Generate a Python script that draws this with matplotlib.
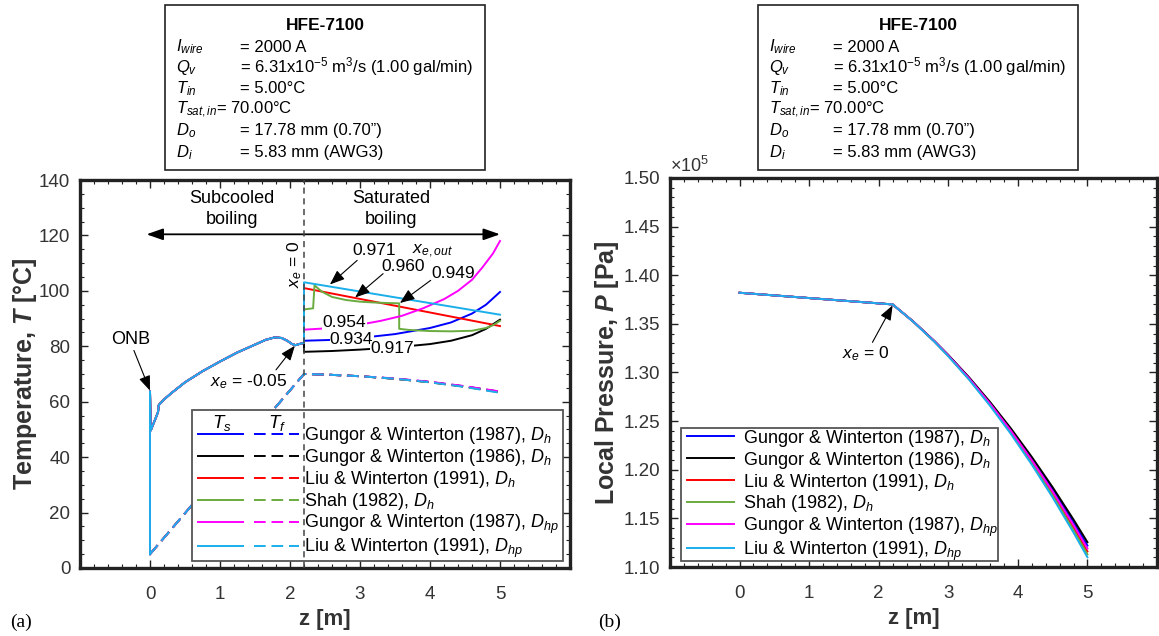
import matplotlib
matplotlib.use("Agg")
import matplotlib.pyplot as plt
from matplotlib.patches import Rectangle
from matplotlib.legend_handler import HandlerTuple
from matplotlib.ticker import MultipleLocator, FuncFormatter, FixedLocator

plt.rcParams['font.family'] = ['Liberation Sans', 'DejaVu Sans']
plt.rcParams['mathtext.fontset'] = 'custom'
plt.rcParams['mathtext.rm'] = 'Liberation Sans'
plt.rcParams['mathtext.it'] = 'Liberation Sans:italic'
plt.rcParams['mathtext.bf'] = 'Liberation Sans:bold'
plt.rcParams['mathtext.bfit'] = 'Liberation Sans:italic:bold'

# ---------------- series definitions ----------------
labels = [r'Gungor & Winterton (1987), $D_h$',
          r'Gungor & Winterton (1986), $D_h$',
          r'Liu & Winterton (1991), $D_h$',
          r'Shah (1982), $D_h$',
          r'Gungor & Winterton (1987), $D_{hp}$',
          r'Liu & Winterton (1991), $D_{hp}$']
colors = ['#0000FF', '#000000', '#FF0000', '#6AAB3F', '#FF00FF', '#1AAEEB']

# ---------------- (a) temperatures ----------------
# subcooled boiling region (identical for all correlations)
z_sub = [0.0, 0.0, 0.01, 0.08, 0.115, 0.125, 0.2, 0.3, 0.5, 0.75, 1.0, 1.25,
         1.5, 1.65, 1.78, 1.88, 1.96, 2.03, 2.08, 2.13, 2.2]
Ts_sub = [5.0, 63.8, 49.6, 54.0, 56.3, 58.8, 60.8, 63.0, 67.0, 71.0, 74.5, 77.8,
          80.6, 82.3, 83.2, 83.0, 82.0, 80.8, 80.4, 80.8, 81.2]
z_fsub = [0.0, 2.2]
Tf_sub = [5.0, 70.0]

# saturated boiling region, wall temperature
z_sat_blue = [2.2, 2.2, 2.6, 3.0, 3.5, 4.0, 4.3, 4.6, 4.8, 5.0]
Ts_sat_blue = [81.2, 82.0, 82.3, 83.0, 84.4, 86.6, 88.6, 91.8, 95.0, 99.6]
z_sat_black = [2.2, 2.2, 2.6, 3.0, 3.5, 4.0, 4.3, 4.6, 4.8, 5.0]
Ts_sat_black = [81.2, 78.0, 78.3, 78.8, 79.6, 80.8, 82.0, 84.0, 86.3, 89.6]
z_sat_red = [2.2, 2.2, 5.0]
Ts_sat_red = [81.2, 101.0, 87.3]
z_sat_green = [2.2, 2.2, 2.33, 2.35, 2.45, 2.6, 2.8, 3.0, 3.2, 3.4, 3.56, 3.56,
               3.7, 4.0, 4.3, 4.6, 4.8, 4.9, 5.0]
Ts_sat_green = [81.2, 93.3, 93.7, 102.0, 99.8, 97.8, 96.7, 96.1, 95.8, 95.6, 95.5, 86.3,
                85.9, 85.5, 85.4, 85.6, 86.6, 87.6, 89.2]
z_sat_magenta = [2.2, 2.2, 2.6, 3.0, 3.3, 3.6, 3.9, 4.2, 4.4, 4.6, 4.75, 4.9, 5.0]
Ts_sat_magenta = [81.2, 86.0, 86.6, 87.8, 89.2, 91.0, 93.7, 97.0, 100.0, 104.0, 108.5,
                  113.5, 118.0]
z_sat_cyan = [2.2, 2.2, 5.0]
Ts_sat_cyan = [81.2, 103.1, 91.4]

# saturated boiling region, fluid temperature
z_fsat = [2.2, 2.5, 3.0, 3.5, 4.0, 4.5, 5.0]
Tf_sat_blue = [70.0, 69.8, 69.2, 68.3, 67.1, 65.5, 63.5]
Tf_sat_black = [70.0, 69.8, 69.2, 68.3, 67.1, 65.5, 63.6]
Tf_sat_red = [70.0, 69.8, 69.2, 68.3, 67.0, 65.4, 63.4]
Tf_sat_green = [70.0, 69.8, 69.2, 68.3, 67.0, 65.4, 63.4]
Tf_sat_magenta = [70.0, 69.8, 69.2, 68.4, 67.2, 65.6, 63.7]
Tf_sat_cyan = [70.0, 69.8, 69.2, 68.3, 67.0, 65.3, 63.2]

# ---------------- (b) pressures [Pa] ----------------
z_p_sub = [0.0, 2.2]
P_sub = [1.382e5, 1.370e5]
z_p_sat = [2.2, 2.5, 2.8, 3.0, 3.3, 3.6, 3.9, 4.2, 4.5, 4.8, 5.0]
P_sat_blue = [1.3700e5, 1.3522e5, 1.3322e5, 1.3177e5, 1.2944e5, 1.2688e5, 1.2412e5,
              1.2114e5, 1.1796e5, 1.1458e5, 1.1220e5]
P_sat_black = [1.3700e5, 1.3522e5, 1.3324e5, 1.3180e5, 1.2949e5, 1.2697e5, 1.2425e5,
               1.2132e5, 1.1820e5, 1.1488e5, 1.1255e5]
P_sat_red = [1.3700e5, 1.3521e5, 1.3320e5, 1.3172e5, 1.2934e5, 1.2673e5, 1.2390e5,
             1.2084e5, 1.1756e5, 1.1406e5, 1.1160e5]
P_sat_green = [1.3700e5, 1.3521e5, 1.3318e5, 1.3170e5, 1.2930e5, 1.2666e5, 1.2379e5,
               1.2068e5, 1.1736e5, 1.1380e5, 1.1130e5]
P_sat_magenta = [1.3700e5, 1.3521e5, 1.3321e5, 1.3175e5, 1.2939e5, 1.2681e5, 1.2401e5,
                 1.2099e5, 1.1776e5, 1.1432e5, 1.1190e5]
P_sat_cyan = [1.3700e5, 1.3520e5, 1.3317e5, 1.3167e5, 1.2925e5, 1.2658e5, 1.2368e5,
              1.2053e5, 1.1715e5, 1.1354e5, 1.1100e5]

xe_out = ['0.934', '0.917', '0.960', '0.949', '0.954', '0.971']

z_sat_s = [z_sat_blue, z_sat_black, z_sat_red, z_sat_green, z_sat_magenta, z_sat_cyan]
Ts_sat = [Ts_sat_blue, Ts_sat_black, Ts_sat_red, Ts_sat_green, Ts_sat_magenta, Ts_sat_cyan]
Tf_sat = [Tf_sat_blue, Tf_sat_black, Tf_sat_red, Tf_sat_green, Tf_sat_magenta, Tf_sat_cyan]
P_sat = [P_sat_blue, P_sat_black, P_sat_red, P_sat_green, P_sat_magenta, P_sat_cyan]

# ---------------- figure ----------------
W, H = 1159, 636
fig = plt.figure(figsize=(W / 100, H / 100), dpi=100)


def fx(px):
    return px / W


def fy(py):
    return 1 - py / H


axL = fig.add_axes([fx(80), fy(568), fx(490), 388 / H])
axR = fig.add_axes([fx(670), fy(567), fx(487), 389 / H])

LW = 1.4
dash = (0, (6, 3))

ts_lines, tf_lines = [], []
for i in range(6):
    zs = z_sub + z_sat_s[i]
    ts = Ts_sub + Ts_sat[i]
    zf = z_fsub + z_fsat[1:]
    tf = Tf_sub + Tf_sat[i][1:]
    l1, = axL.plot(zs, ts, color=colors[i], lw=LW, zorder=3)
    l2, = axL.plot(zf, tf, color=colors[i], lw=LW, ls=dash, zorder=3)
    ts_lines.append(l1)
    tf_lines.append(l2)

p_lines = []
for i in range(6):
    l, = axR.plot(z_p_sub + z_p_sat[1:], P_sub + P_sat[i][1:], color=colors[i], lw=LW)
    p_lines.append(l)

# ---------------- axes styling ----------------
for ax in (axL, axR):
    ax.set_xlim(-1, 6)
    ax.xaxis.set_major_locator(FixedLocator([0, 1, 2, 3, 4, 5]))
    ax.xaxis.set_minor_locator(MultipleLocator(0.2))
    ax.tick_params(which='both', direction='in', top=True, right=True, labelsize=13.5,
                   colors='#222222', labelcolor='#333333')
    ax.tick_params(which='major', length=6, width=1.0, pad=7)
    ax.tick_params(which='minor', length=3, width=0.8)
    ax.tick_params(axis='x', which='major', pad=13)
    for s in ax.spines.values():
        s.set_linewidth(2.4)
        s.set_color('#222222')
    ax.set_xlabel('z [m]', fontsize=16, fontweight='bold', color='#333333')
    ax.xaxis.set_label_coords(0.5, -0.105)

axL.set_ylim(0, 140)
axL.yaxis.set_major_locator(MultipleLocator(20))
axL.yaxis.set_minor_locator(MultipleLocator(5))
axL.set_ylabel(r'Temperature, $\mathbfit{T}$ [°C]', fontsize=18, fontweight='bold',
               color='#333333')
axL.yaxis.set_label_coords(-0.084, 0.5)

axR.set_ylim(1.10e5, 1.50e5)
axR.yaxis.set_major_locator(MultipleLocator(0.05e5))
axR.yaxis.set_minor_locator(MultipleLocator(0.01e5))
axR.yaxis.set_major_formatter(FuncFormatter(lambda v, p: f'{v / 1e5:.2f}'))
axR.set_ylabel(r'Local Pressure, $\mathbfit{P}$ [Pa]', fontsize=18, fontweight='bold',
               color='#333333')
axR.yaxis.set_label_coords(-0.1, 0.5)
axR.text(0.0, 1.005, r'×10$^5$', transform=axR.transAxes, fontsize=13,
         color='#333333', ha='left', va='bottom')

# ---------------- (a) annotations ----------------
axL.axvline(2.2, color='#444444', lw=1.1, ls=(0, (4, 3)), zorder=6)
axL.annotate('', xy=(5.0, 120.4), xytext=(-0.05, 120.4),
             arrowprops=dict(arrowstyle='<|-|>,head_length=1.0,head_width=0.35',
                             color='k', lw=1.3, shrinkA=0, shrinkB=0))
axL.text(1.17, 129.5, 'Subcooled\nboiling', ha='center', va='center', fontsize=13,
         linespacing=1.25)
axL.text(3.45, 129.5, 'Saturated\nboiling', ha='center', va='center', fontsize=13,
         linespacing=1.25)
axL.text(2.06, 109.5, r'$x_e$ = 0', rotation=90, ha='center', va='center', fontsize=12.5)
axL.text(4.04, 114.4, r'$x_{e,out}$', ha='center', va='center', fontsize=12.5)

arrow_kw = dict(arrowstyle='-|>,head_length=0.9,head_width=0.35', color='k', lw=0.8,
                shrinkA=0, shrinkB=0)
axL.text(3.20, 114.4, xe_out[5], ha='center', va='center', fontsize=12.5)
axL.annotate('', xy=(2.57, 102.3), xytext=(2.96, 111.0), arrowprops=arrow_kw)
axL.text(3.62, 108.9, xe_out[2], ha='center', va='center', fontsize=12.5)
axL.annotate('', xy=(2.93, 97.6), xytext=(3.33, 106.2), arrowprops=arrow_kw)
axL.text(4.33, 106.3, xe_out[3], ha='center', va='center', fontsize=12.5)
axL.annotate('', xy=(3.57, 95.6), xytext=(4.01, 103.8), arrowprops=arrow_kw)

box_kw = dict(fc='white', ec='none', pad=0.3)
axL.text(2.78, 88.7, xe_out[4], ha='center', va='center', fontsize=12.5, bbox=box_kw,
         zorder=4)
axL.text(2.88, 82.4, xe_out[0], ha='center', va='center', fontsize=12.5, bbox=box_kw,
         zorder=4)
axL.text(3.46, 79.2, xe_out[1], ha='center', va='center', fontsize=12.5, bbox=box_kw,
         zorder=4)

axL.text(-0.27, 82.4, 'ONB', ha='center', va='center', fontsize=13)
axL.annotate('', xy=(0.0, 64.0), xytext=(-0.23, 78.5), arrowprops=arrow_kw)
axL.text(1.41, 67.4, r'$x_e$ = -0.05', ha='center', va='center', fontsize=12.5)
axL.annotate('', xy=(2.07, 80.2), xytext=(1.80, 71.5), arrowprops=arrow_kw)

# legend of (a): frame drawn as its own patch, header row above the line samples
axL.add_patch(Rectangle((0.228, 0.017), 0.757, 0.390, transform=axL.transAxes,
                        fc='white', ec='#555555', lw=1.3, zorder=4.6))
legL = axL.legend(list(zip(ts_lines, tf_lines)), labels,
                  handler_map={tuple: HandlerTuple(ndivide=None, pad=0.6)},
                  loc='upper left', bbox_to_anchor=(0.229, 0.382), borderaxespad=0,
                  handlelength=5.6, fontsize=13, frameon=False, borderpad=0.3,
                  labelspacing=0.05, handletextpad=0.3)
legL.set_zorder(5)
axL.text(1.02, 52.5, r'$T_s$', ha='center', va='center', fontsize=13.5, zorder=7)
axL.text(1.81, 52.5, r'$T_f$', ha='center', va='center', fontsize=13.5, zorder=7)

# ---------------- (b) annotations ----------------
axR.text(1.82, 1.3197e5, r'$x_e$ = 0', ha='center', va='center', fontsize=12.5)
axR.annotate('', xy=(2.2, 1.369e5), xytext=(1.91, 1.331e5), arrowprops=arrow_kw)

axR.add_patch(Rectangle((0.0226, 0.016), 0.651, 0.342, transform=axR.transAxes,
                        fc='white', ec='#555555', lw=1.3, zorder=4.6))
legR = axR.legend(p_lines, labels, loc='upper left', bbox_to_anchor=(0.024, 0.372),
                  borderaxespad=0, handlelength=2.6, fontsize=13, frameon=False,
                  borderpad=0.3, labelspacing=0.05, handletextpad=0.5)
legR.set_zorder(5)

# ---------------- condition boxes ----------------
cond_labels = [r'$I_{wire}$', r'$Q_v$', r'$T_{in}$', None, r'$D_o$', r'$D_i$']
cond_values = ['= 2000 A', r'= 6.31x10$^{-5}$ m$^3$/s (1.00 gal/min)', '= 5.00°C',
               r'$T_{sat,in}$= 70.00°C', '= 17.78 mm (0.70”)', '= 5.83 mm (AWG3)']
row_base = [51.5, 72, 93, 113.5, 135, 157]

for x0 in (165, 758):
    fig.patches.append(Rectangle((fx(x0), fy(170)), fx(320), 165 / H,
                                 transform=fig.transFigure, fc='white', ec='#222222',
                                 lw=1.2))
    fig.text(fx(x0 + 160), fy(30), 'HFE-7100', ha='center', va='baseline', fontsize=12.5,
             fontweight='bold')
    for lab, val, yb in zip(cond_labels, cond_values, row_base):
        if lab is None:
            fig.text(fx(x0 + 11), fy(yb), val, ha='left', va='baseline', fontsize=12)
        else:
            fig.text(fx(x0 + 11), fy(yb), lab, ha='left', va='baseline', fontsize=12)
            fig.text(fx(x0 + 75), fy(yb), val, ha='left', va='baseline', fontsize=12)

fig.text(fx(10), fy(627), '(a)', fontfamily='Liberation Serif', fontsize=14,
         ha='left', va='baseline')
fig.text(fx(598), fy(627), '(b)', fontfamily='Liberation Serif', fontsize=14,
         ha='left', va='baseline')

fig.savefig('out.png', dpi=100)
